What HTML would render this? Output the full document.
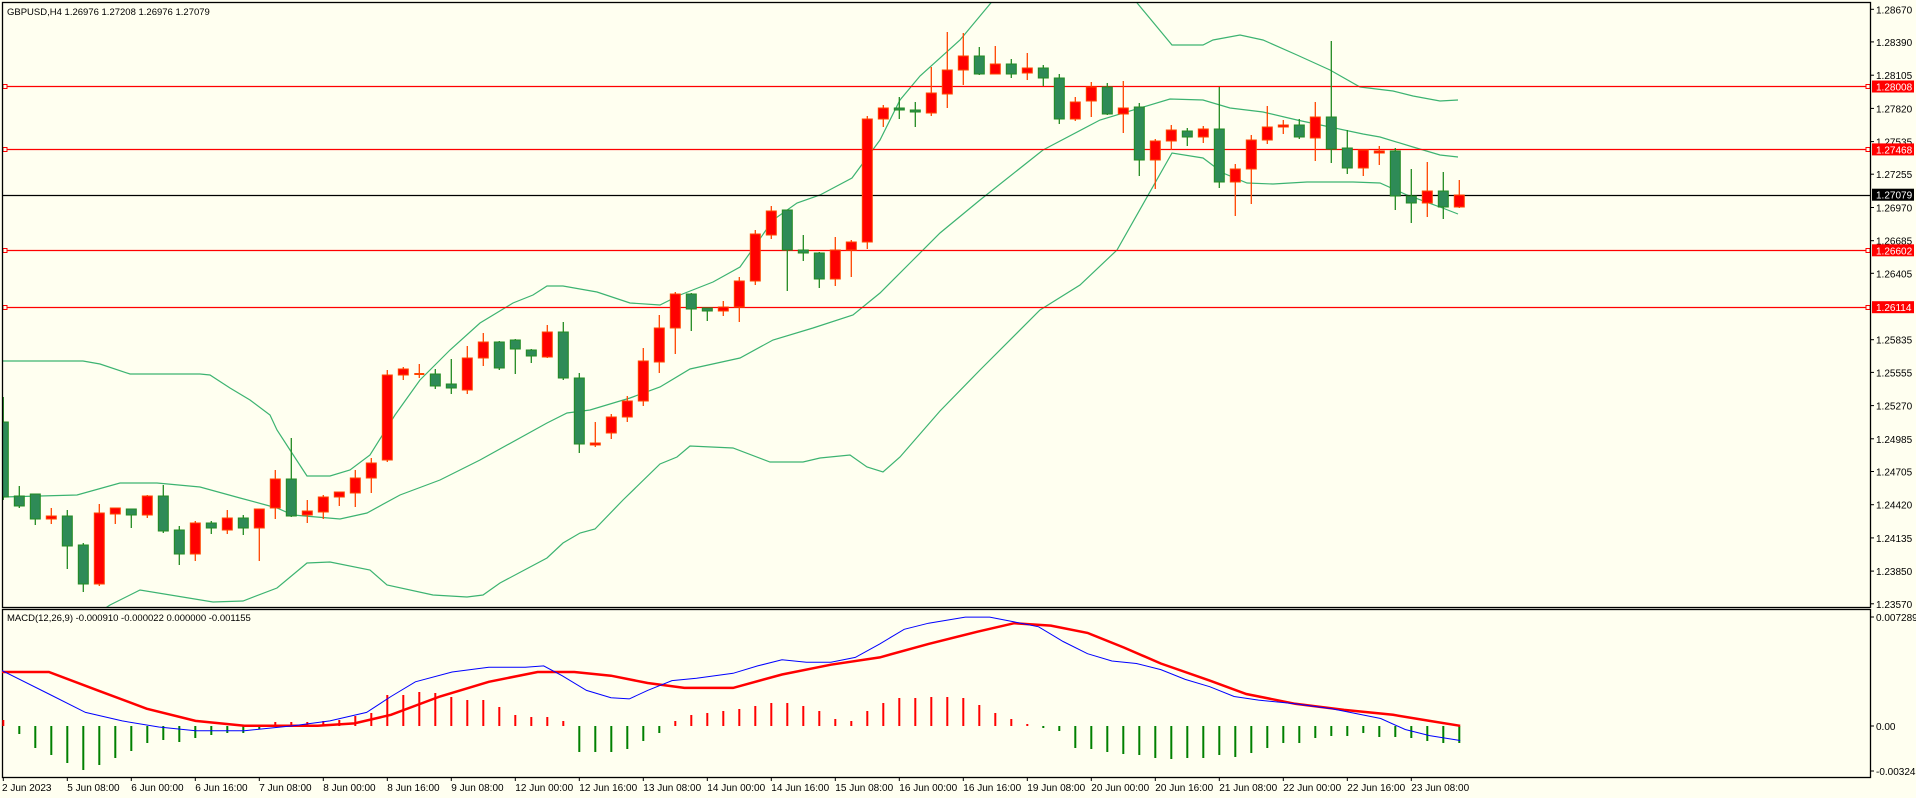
<!DOCTYPE html>
<html><head><meta charset="utf-8">
<style>
html,body{margin:0;padding:0;background:#FFFFF0;}
svg{display:block;font-family:"Liberation Sans",sans-serif;}
</style></head>
<body>
<svg id="c" width="1916" height="798" xmlns="http://www.w3.org/2000/svg"></svg>
<script>
const svg=document.getElementById('c');
let out='';
out+='<rect x="0" y="0" width="1916" height="798" fill="#FFFFF0"/>';
const L=2,R=1870,T=2,B=607,MT=609,MB=777;
const py=p=>9.3+(1.2867-p)*11656;
out+='<defs><clipPath id="mc"><rect x="'+L+'" y="'+T+'" width="'+(R-L)+'" height="'+(B-T)+'"/></clipPath><clipPath id="dc"><rect x="'+L+'" y="'+MT+'" width="'+(R-L)+'" height="'+(MB-MT)+'"/></clipPath></defs>';
const labs=[1.28670,1.28390,1.28105,1.27820,1.27535,1.27255,1.26970,1.26685,1.26405,1.25835,1.25555,1.25270,1.24985,1.24705,1.24420,1.24135,1.23850,1.23570];
labs.forEach(v=>{const y=py(v);out+='<line x1="'+R+'" y1="'+y.toFixed(1)+'" x2="'+(R+4)+'" y2="'+y.toFixed(1)+'" stroke="#000"/>';
out+='<text x="'+(R+6)+'" y="'+(y+4).toFixed(1)+'" font-size="10" fill="#000">'+v.toFixed(5)+'</text>';});
const up1=[[0,361],[83,361],[100,364],[130,374],[200,374],[210,375],[230,388],[250,400],[270,415],[277,430],[290,450],[307,476],[330,476],[350,470],[370,455],[395,415],[420,380],[450,350],[480,323],[513,303],[533,295],[547,286],[563,286],[597,292],[630,303],[660,305],[680,295],[713,282],[740,267],[757,243],[773,220],[797,203],[820,195],[852,178],[880,140],[900,100],[920,76],[960,40],[995,-2]];
const up2=[[1133,-2],[1172,45],[1203,45],[1213,40],[1240,35],[1263,40],[1297,55],[1330,70],[1360,87],[1393,91],[1413,96],[1440,101],[1458,100]];
const mid=[[3,497],[77,495],[120,483],[157,483],[200,487],[240,498],[277,508],[293,515],[340,519],[367,513],[400,495],[440,480],[480,460],[547,423],[567,413],[590,410],[630,398],[660,387],[690,369],[740,358],[773,340],[813,328],[853,315],[880,293],[913,260],[940,233],[980,200],[1043,150],[1100,120],[1170,99],[1203,100],[1230,108],[1263,112],[1297,120],[1330,127],[1363,134],[1380,137],[1413,147],[1440,155],[1458,157]];
const low=[[95,615],[110,605],[140,590],[213,602],[243,601],[277,588],[307,563],[330,562],[370,570],[387,585],[433,595],[467,597],[483,595],[500,583],[547,558],[563,543],[580,533],[595,529],[623,500],[660,464],[677,457],[690,446],[733,448],[770,462],[803,462],[820,458],[850,455],[867,467],[883,472],[900,457],[940,411],[980,370],[1040,310],[1080,285],[1117,250],[1172,153],[1203,158],[1223,173],[1247,183],[1273,184],[1307,182],[1353,182],[1380,183],[1407,195],[1440,207],[1458,214]];
const pl=(a,c,w)=>'<polyline points="'+a.map(p=>p[0]+','+p[1]).join(' ')+'" fill="none" stroke="'+c+'" stroke-width="'+w+'"/>';
out+='<g clip-path="url(#mc)">';
[up1,up2,mid,low].forEach(a=>out+=pl(a,'#3CB371',1.2));
[[1.28008],[1.27468],[1.26602],[1.26114]].forEach(h=>{const y=Math.round(py(h[0]))+0.5;
out+='<line x1="'+L+'" y1="'+y+'" x2="'+R+'" y2="'+y+'" stroke="#FF0000" stroke-width="1.2"/>';
out+='<rect x="'+(L+1)+'" y="'+(y-2)+'" width="4" height="4" fill="#FFFFF0" stroke="#FF0000"/>';
out+='<rect x="'+(R-4)+'" y="'+(y-2)+'" width="4" height="4" fill="#FFFFF0" stroke="#FF0000"/>';});
const by=Math.round(py(1.27079))+0.5;
out+='<line x1="'+L+'" y1="'+by+'" x2="'+R+'" y2="'+by+'" stroke="#000" stroke-width="1.2"/>';
const C=[['d',397,422,497,500],['d',486,496,506,508],['d',494,494,519,525],['u',508,516,519,524],['d',510,516,546,569],['d',543,545,584,592],['u',504,513,584,586],['u',508,508,514,524],['d',509,509,515,528],['u',495,496,515,518],
['d',485,496,531,533],['d',526,530,554,565],['u',521,523,554,561],['d',521,523,528,534],['u',510,518,530,534],['d',515,518,528,535],['u',509,509,528,561],['u',470,479,508,519],['d',438,479,516,517],['u',500,511,515,523],
['u',495,497,512,519],['u',492,492,497,506],['u',470,478,493,507],['u',458,463,478,493],['u',370,375,460,462],['u',367,369,375,380],['u',364,374,375,378],['d',369,374,386,389],['d',359,384,388,394],['u',346,358,390,394],
['u',333,342,358,366],['d',341,342,368,370],['d',339,340,349,374],['d',349,350,356,363],['u',325,332,357,358],['d',322,332,378,380],['d',373,378,444,453],['u',422,443,445,447],['u',414,417,433,439],['u',396,401,417,422],
['u',348,361,401,406],['u',315,328,362,373],['u',292,294,328,354],['d',293,294,309,331],['d',308,308,311,321],['u',301,307,311,316],['u',277,281,307,322],['u',230,234,281,285],['u',206,211,235,239],['d',210,210,250,291],
['d',235,250,253,261],['d',252,253,279,288],['u',237,250,279,286],['u',240,242,250,277],['u',116,119,242,249],['u',105,108,119,127],['d',97,108,110,119],['d',102,110,112,127],['u',67,93,113,116],['u',32,70,94,108],
['u',33,56,70,85],['d',47,56,74,75],['u',46,64,74,74],['d',59,64,74,78],['u',53,68,73,80],['d',65,68,78,86],['d',74,78,119,124],['u',97,102,119,121],['u',82,87,101,117],['d',83,87,114,115],
['u',81,108,114,133],['d',103,107,160,176],['u',139,141,160,189],['u',125,130,141,150],['d',128,131,137,146],['u',126,129,137,143],['d',87,129,182,188],['u',164,169,182,216],['u',135,140,169,204],['u',106,127,140,144],
['u',120,125,127,134],['d',119,125,137,139],['u',102,117,138,161],['d',41,117,149,163],['d',130,148,168,174],['u',150,150,168,176],['u',146,151,153,165],['d',148,151,196,210],['d',169,196,203,223],['u',162,191,203,217],
['d',172,191,207,219],['u',180,195,207,208]];
C.forEach((c,i)=>{const x=3.3+16*i;const up=c[0]=='u';const wc=up?'#FF4500':'#228B22';const fc=up?'#FF0000':'#2E8B57';
out+='<line x1="'+x+'" y1="'+c[1]+'" x2="'+x+'" y2="'+c[4]+'" stroke="'+wc+'" stroke-width="1.3"/>';
let h=c[3]-c[2];if(h<2){out+='<rect x="'+(x-5)+'" y="'+(c[2]-1)+'" width="10" height="2" fill="'+wc+'"/>';}
else out+='<rect x="'+(x-5)+'" y="'+c[2]+'" width="10" height="'+h+'" fill="'+fc+'" stroke="'+wc+'" stroke-width="1"/>';});
out+='</g>';
[[1.28008,'1.28008','#FF0000'],[1.27468,'1.27468','#FF0000'],[1.26602,'1.26602','#FF0000'],[1.26114,'1.26114','#FF0000'],[1.27079,'1.27079','#000']].forEach(h=>{const y=py(h[0]);
out+='<rect x="'+(R+2)+'" y="'+(y-6).toFixed(1)+'" width="42" height="12" fill="'+h[2]+'"/>';
out+='<text x="'+(R+6)+'" y="'+(y+4).toFixed(1)+'" font-size="10" fill="#fff">'+h[1]+'</text>';});
out+='<rect x="'+L+'.5" y="'+T+'.5" width="'+(R-L)+'" height="'+(B-T)+'" fill="none" stroke="#000" stroke-width="1.3"/>';
out+='<rect x="'+L+'.5" y="'+MT+'.5" width="'+(R-L)+'" height="'+(MB-MT)+'" fill="none" stroke="#000" stroke-width="1.3"/>';
out+='<text x="7" y="15" font-size="9.5" fill="#000">GBPUSD,H4  1.26976 1.27208 1.26976 1.27079</text>';
out+='<text x="7" y="621" font-size="9.5" fill="#000">MACD(12,26,9) -0.000910 -0.000022 0.000000 -0.001155</text>';
const Z=726;
const H=[6,-8,-22,-29,-37,-44,-39,-32,-25,-17,-14,-16,-12,-9,-7,-7,-3,4,4,4,5,6,10,13,31,31,34,33,29,26,26,19,11,9,9,5,-26,-26,-26,-23,-15,-7,5,11,13,15,17,20,23,23,20,15,7,5,15,23,28,28,29,29,28,21,13,7,2,-2,-5,-22,-23,-26,-28,-29,-32,-33,-32,-32,-29,-31,-27,-22,-17,-17,-12,-10,-10,-7,-11,-11,-12,-15,-17,-17];
out+='<g clip-path="url(#dc)">';
H.forEach((h,i)=>{const x=3.3+16*i;out+='<line x1="'+x+'" y1="'+Z+'" x2="'+x+'" y2="'+(Z-h)+'" stroke="'+(h>0?'#FF0000':'#008000')+'" stroke-width="2"/>';});
const blue=[[0,548],[40,568],[70,583],[100,590],[130,595],[160,598],[200,598],[240,594],[270,590],[300,583],[320,570],[340,558],[370,550],[400,546],[430,546],[445,545],[460,553],[480,565],[500,571],[515,572],[530,565],[550,557],[570,555],[600,551],[620,545],[640,540],[660,542],[680,542],[700,538],[720,527],[740,515],[760,510],[790,505],[810,505],[830,509],[850,513],[870,525],[890,535],[910,541],[930,543],[950,548],[970,556],[990,562],[1010,570],[1030,573],[1060,576],[1090,580],[1110,584],[1130,588],[1150,597],[1170,602],[1195,606]];
const red=[[0,550],[40,550],[80,565],[120,580],[160,590],[200,594],[260,594],[290,592],[320,585],[360,570],[400,558],[440,550],[470,550],[500,553],[530,559],[560,563],[600,563],[640,552],[680,544],[720,538],[760,527],[800,517],[830,510],[860,512],[890,518],[920,530],[950,543],[990,557],[1020,568],[1060,576],[1100,581],[1140,585],[1170,590],[1195,594]];
const s=a=>a.map(p=>[(p[0]*1.2219).toFixed(1),(p[1]*1.2219).toFixed(1)]);
out+=pl(s(red),'#FF0000',2.5);
out+=pl(s(blue),'#0000FF',1);
out+='</g>';
[['0.007289',617],['0.00',726],['-0.003243',771]].forEach(m=>{
out+='<line x1="'+R+'" y1="'+m[1]+'" x2="'+(R+4)+'" y2="'+m[1]+'" stroke="#000"/>';
out+='<text x="'+(R+6)+'" y="'+(m[1]+4)+'" font-size="10" fill="#000">'+m[0]+'</text>';});
const xl=['2 Jun 2023','5 Jun 08:00','6 Jun 00:00','6 Jun 16:00','7 Jun 08:00','8 Jun 00:00','8 Jun 16:00','9 Jun 08:00','12 Jun 00:00','12 Jun 16:00','13 Jun 08:00','14 Jun 00:00','14 Jun 16:00','15 Jun 08:00','16 Jun 00:00','16 Jun 16:00','19 Jun 08:00','20 Jun 00:00','20 Jun 16:00','21 Jun 08:00','22 Jun 00:00','22 Jun 16:00','23 Jun 08:00'];
xl.forEach((t,k)=>{const x=3.3+64*k;out+='<line x1="'+x+'" y1="'+MB+'" x2="'+x+'" y2="'+(MB+4)+'" stroke="#000"/>';
out+='<text x="'+(k==0?2:x)+'" y="791" font-size="10" fill="#000">'+t+'</text>';});
svg.innerHTML=out;
</script>
</body></html>
